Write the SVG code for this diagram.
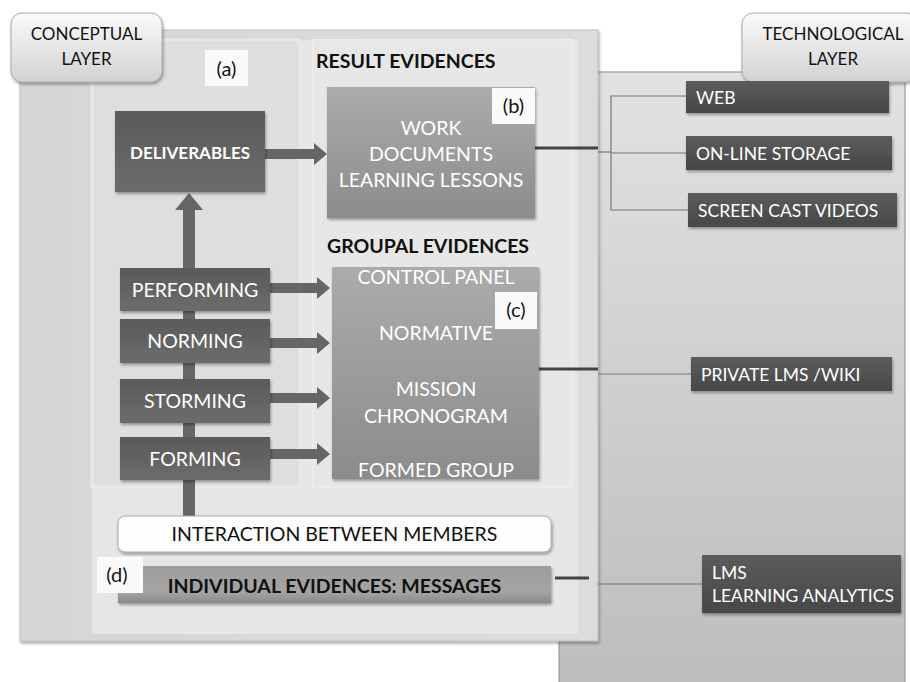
<svg xmlns="http://www.w3.org/2000/svg" width="910" height="682" viewBox="0 0 910 682">
<defs>
<linearGradient id="gTech" x1="0" y1="0" x2="0" y2="1"><stop offset="0" stop-color="#e2e2e2"/><stop offset="1" stop-color="#bdbdbd"/></linearGradient>
<linearGradient id="gTab" x1="0" y1="0" x2="0" y2="1"><stop offset="0" stop-color="#fafafa"/><stop offset="1" stop-color="#d2d2d2"/></linearGradient>
<linearGradient id="gDark" x1="0" y1="0" x2="0" y2="1"><stop offset="0" stop-color="#5a5a5a"/><stop offset="1" stop-color="#6c6c6c"/></linearGradient>
<linearGradient id="gTechBox" x1="0" y1="0" x2="0" y2="1"><stop offset="0" stop-color="#5c5c5c"/><stop offset="1" stop-color="#474747"/></linearGradient>
<linearGradient id="gMid" x1="0" y1="0" x2="0" y2="1"><stop offset="0" stop-color="#ababab"/><stop offset="1" stop-color="#8c8c8c"/></linearGradient>
<linearGradient id="gInd" x1="0" y1="0" x2="0" y2="1"><stop offset="0" stop-color="#9e9e9e"/><stop offset="0.7" stop-color="#a4a4a4"/><stop offset="1" stop-color="#8a8a8a"/></linearGradient>
<linearGradient id="gOuter" x1="0" y1="0" x2="1" y2="0"><stop offset="0" stop-color="#d6d6d6"/><stop offset="1" stop-color="#dcdcdc"/></linearGradient>
<filter id="sh" x="-5%" y="-5%" width="110%" height="115%"><feDropShadow dx="1" dy="2" stdDeviation="1.5" flood-color="#000" flood-opacity="0.35"/></filter>
</defs>
<style>
text{font-family:Lato,"Open Sans","Liberation Sans",sans-serif}
.w{fill:#fff;font-size:19.5px}
.wt{fill:#fff;font-size:17.5px}
.b{fill:#111;font-size:19.5px;font-weight:bold}
.k{fill:#111;font-size:17px}
.k2{fill:#111;font-size:19.5px}
.lbl{fill:#111;font-size:20px}
.arr{fill:#666}
.thin{stroke:#777;stroke-width:1.2;fill:none}
.dk{stroke:#444;stroke-width:3;fill:none}
</style>
<rect width="910" height="682" fill="#fff"/>
<g id="tech-layer">
<rect x="559" y="72" width="346" height="615" fill="url(#gTech)" stroke="#9a9a9a" stroke-width="1.2"/>
</g>
<g id="conceptual-layer">
<rect x="20" y="30" width="578" height="611" fill="url(#gOuter)" stroke="#bdbdbd" stroke-width="1" filter="url(#sh)"/>
<rect x="92" y="40" width="486" height="594" fill="#e6e6e6"/>
<rect x="92" y="40" width="208" height="447" fill="#dedede" stroke="#e8e8e8" stroke-width="3"/>
<rect x="313" y="40" width="259" height="447" fill="#e7e7e7" stroke="#ececec" stroke-width="2"/>
</g>
<g id="conceptual-tab">
<rect x="11" y="13" width="151" height="69" rx="11" fill="url(#gTab)" stroke="#aaa" stroke-width="1" filter="url(#sh)"/>
<text x="86.5" y="40" text-anchor="middle" class="k">CONCEPTUAL</text>
<text x="86.5" y="65" text-anchor="middle" class="k">LAYER</text>
</g>
<g id="tech-tab">
<rect x="742" y="13" width="175" height="69" rx="11" fill="url(#gTab)" stroke="#aaa" stroke-width="1" filter="url(#sh)"/>
<text x="833" y="40" text-anchor="middle" class="k">TECHNOLOGICAL</text>
<text x="833" y="65" text-anchor="middle" class="k">LAYER</text>
</g>
<g id="connectors">
<rect x="183" y="268" width="12" height="248" class="arr"/>
<polygon points="183,268 183,210 175,210 189,193 203,210 195,210 195,268" class="arr"/>
<polygon points="265,149 314,149 314,143 327,154 314,165 314,159 265,159" class="arr"/>
<polygon points="270,283 317,283 317,277 330,288 317,299 317,293 270,293" class="arr"/>
<polygon points="270,338 317,338 317,332 330,343 317,354 317,348 270,348" class="arr"/>
<polygon points="270,393 317,393 317,387 330,398 317,409 317,403 270,403" class="arr"/>
<polygon points="270,449 317,449 317,443 330,454 317,465 317,459 270,459" class="arr"/>
<line x1="535" y1="148" x2="598" y2="148" class="dk"/>
<polyline points="598,152 611,152" class="thin"/>
<polyline points="686,96 611,96 611,210 688,210" class="thin"/>
<line x1="611" y1="153" x2="686" y2="153" class="thin"/>
<line x1="539" y1="369" x2="598" y2="369" class="dk"/>
<line x1="598" y1="374" x2="691" y2="374" class="thin"/>
<line x1="555" y1="578" x2="589" y2="578" class="dk"/>
<line x1="598" y1="584" x2="702" y2="584" class="thin"/>
</g>
<g id="label-a">
<rect x="205" y="50" width="43" height="36" fill="#fafafa"/>
<text x="226.5" y="76" text-anchor="middle" class="lbl">(a)</text>
</g>
<g id="deliverables">
<rect x="115" y="111" width="150" height="81" fill="url(#gDark)" filter="url(#sh)"/>
<text x="190" y="159" text-anchor="middle" fill="#fff" font-size="17" font-weight="bold">DELIVERABLES</text>
</g>
<g id="performing">
<rect x="120" y="268" width="150" height="43" fill="url(#gDark)" filter="url(#sh)"/>
<text x="195" y="297" text-anchor="middle" class="w">PERFORMING</text>
</g>
<g id="norming">
<rect x="120" y="319" width="150" height="44" fill="url(#gDark)" filter="url(#sh)"/>
<text x="195" y="348" text-anchor="middle" class="w">NORMING</text>
</g>
<g id="storming">
<rect x="120" y="379" width="150" height="44" fill="url(#gDark)" filter="url(#sh)"/>
<text x="195" y="408" text-anchor="middle" class="w">STORMING</text>
</g>
<g id="forming">
<rect x="120" y="437" width="150" height="43" fill="url(#gDark)" filter="url(#sh)"/>
<text x="195" y="466" text-anchor="middle" class="w">FORMING</text>
</g>
<g id="result-evidences">
<text x="316" y="68" class="b">RESULT EVIDENCES</text>
<rect x="327" y="87" width="208" height="131" fill="url(#gMid)" filter="url(#sh)"/>
<text x="431" y="135" text-anchor="middle" class="w">WORK</text>
<text x="431" y="161" text-anchor="middle" class="w">DOCUMENTS</text>
<text x="431" y="187" text-anchor="middle" class="w">LEARNING LESSONS</text>
<rect x="492" y="88" width="43" height="36" fill="#fafafa"/>
<text x="513.5" y="113" text-anchor="middle" class="lbl">(b)</text>
</g>
<g id="groupal-evidences">
<text x="327" y="253" class="b">GROUPAL EVIDENCES</text>
<rect x="332" y="267" width="207" height="212" fill="url(#gMid)" filter="url(#sh)"/>
<text x="436" y="284" text-anchor="middle" class="w">CONTROL PANEL</text>
<text x="436" y="340" text-anchor="middle" class="w">NORMATIVE</text>
<text x="436" y="396" text-anchor="middle" class="w">MISSION</text>
<text x="436" y="423" text-anchor="middle" class="w">CHRONOGRAM</text>
<text x="436" y="477" text-anchor="middle" class="w">FORMED GROUP</text>
<rect x="495" y="292" width="42" height="37" fill="#fafafa"/>
<text x="516" y="317" text-anchor="middle" class="lbl">(c)</text>
</g>
<g id="interaction">
<rect x="118" y="516" width="433" height="36" rx="7" fill="#fdfdfd" stroke="#aaa" stroke-width="1" filter="url(#sh)"/>
<text x="334.5" y="541" text-anchor="middle" class="k2">INTERACTION BETWEEN MEMBERS</text>
</g>
<g id="individual-evidences">
<rect x="118" y="566" width="433" height="37" fill="url(#gInd)" filter="url(#sh)"/>
<text x="334.5" y="593" text-anchor="middle" class="b">INDIVIDUAL EVIDENCES: MESSAGES</text>
<rect x="97" y="557" width="46" height="36" fill="#fafafa"/>
<text x="117" y="582" text-anchor="middle" class="lbl">(d)</text>
</g>
<g id="web">
<rect x="686" y="81" width="203" height="32" fill="url(#gTechBox)" filter="url(#sh)"/>
<text x="696" y="104" class="wt">WEB</text>
</g>
<g id="online-storage">
<rect x="686" y="136" width="206" height="34" fill="url(#gTechBox)" filter="url(#sh)"/>
<text x="696" y="160" class="wt">ON-LINE STORAGE</text>
</g>
<g id="screen-cast">
<rect x="688" y="193" width="209" height="34" fill="url(#gTechBox)" filter="url(#sh)"/>
<text x="698" y="217" class="wt">SCREEN CAST VIDEOS</text>
</g>
<g id="private-lms">
<rect x="691" y="357" width="201" height="34" fill="url(#gTechBox)" filter="url(#sh)"/>
<text x="701" y="381" class="wt">PRIVATE LMS /WIKI</text>
</g>
<g id="lms-analytics">
<rect x="702" y="555" width="199" height="58" fill="url(#gTechBox)" filter="url(#sh)"/>
<text x="712" y="579" class="wt">LMS</text>
<text x="712" y="602" class="wt">LEARNING ANALYTICS</text>
</g>
</svg>
